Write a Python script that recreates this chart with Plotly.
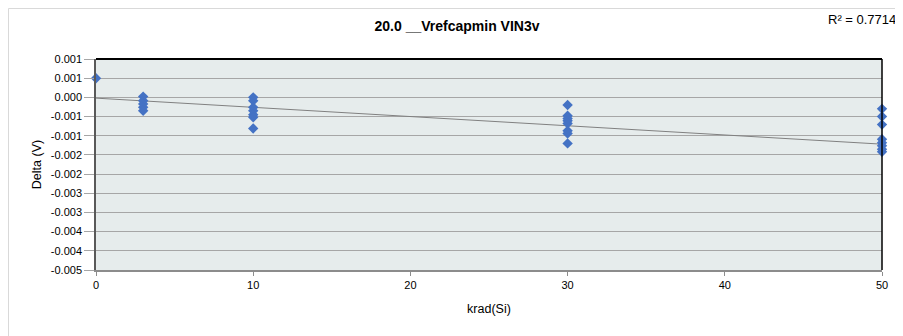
import plotly.graph_objects as go

# Data
dose = [0,
        3, 3, 3, 3, 3,
        10, 10, 10, 10, 10, 10, 10,
        30, 30, 30, 30, 30, 30, 30, 30,
        50, 50, 50, 50, 50, 50, 50, 50]
delta = [0.0005,
         0.00002, -0.00009, -0.00017, -0.00026, -0.00035,
         0.0, -0.00009, -0.00026, -0.00035, -0.00045, -0.00052, -0.00081,
         -0.0002, -0.00048, -0.00055, -0.00061, -0.00068, -0.00087, -0.00094, -0.0012,
         -0.0003, -0.0005, -0.00071, -0.00109, -0.00118, -0.00126, -0.00135, -0.00142]

# Linear trendline end points as drawn in the reference
trend_x = [0, 50]
trend_y = [-0.00002, -0.00122]

y_tickvals = [0.001, 0.0005, 0.0, -0.0005, -0.001, -0.0015, -0.002, -0.0025,
              -0.003, -0.0035, -0.004, -0.0045]
y_ticktext = ["0.001", "0.001", "0.000", "-0.001", "-0.001", "-0.002", "-0.002",
              "-0.003", "-0.003", "-0.004", "-0.004", "-0.005"]
x_tickvals = [0, 10, 20, 30, 40, 50]

title_text = "<b>20.0 __Vrefcapmin VIN3v</b>"
r2_text = "R\u00b2 = 0.7714"

# Page body has an 8px margin, so the figure is sized to fit inside the window
W, H = 895, 328
L, R, T, B = 88, 21, 51, 66
PW, PH = W - L - R, H - T - B

fig = go.Figure()
fig.add_trace(go.Scatter(x=trend_x, y=trend_y, mode="lines",
                         line=dict(color="#808080", width=1),
                         hoverinfo="skip", showlegend=False))
fig.add_trace(go.Scatter(x=dose, y=delta, mode="markers",
                         marker=dict(symbol="diamond", size=8, color="#4472C4",
                                     line=dict(width=0)),
                         cliponaxis=False, showlegend=False))

font_family = "Liberation Sans, Arial, sans-serif"

fig.update_layout(
    width=W, height=H,
    margin=dict(l=L, r=R, t=T, b=B, autoexpand=False),
    paper_bgcolor="white",
    plot_bgcolor="#E6ECEC",
    font=dict(family=font_family, size=11, color="#000000"),
    showlegend=False,
    title=dict(text=title_text, x=449 / W, xref="container", xanchor="center",
               y=1 - 18 / H, yref="container", yanchor="middle",
               font=dict(size=14, family=font_family, color="#000000")),
    xaxis=dict(range=[0, 50], tickvals=x_tickvals, showgrid=False,
               zeroline=False, showline=True, linecolor="#8C8C8C", linewidth=1.5,
               ticks="outside", ticklen=4, tickcolor="#8C8C8C",
               tickfont=dict(size=11),
               title=dict(text="krad(Si)", font=dict(size=12.5), standoff=14)),
    yaxis=dict(range=[-0.0045, 0.001], tickvals=y_tickvals, ticktext=y_ticktext,
               showgrid=True, gridcolor="#A6A6A6", gridwidth=1,
               zeroline=False, showline=True, linecolor="#595959", linewidth=1.5,
               ticks="outside", ticklen=10, tickcolor="#A6A6A6",
               tickfont=dict(size=11),
               title=dict(text="Delta (V)", font=dict(size=12.5), standoff=6)),
    shapes=[
        # top and right plot-area border (black)
        dict(type="line", xref="paper", yref="paper", x0=0, x1=1, y0=1, y1=1,
             line=dict(color="#000000", width=2), layer="above"),
        dict(type="line", xref="paper", yref="paper", x0=1, x1=1, y0=0, y1=1,
             line=dict(color="#000000", width=1.5), layer="above"),
        # chart-area border (light gray)
        dict(type="line", xref="paper", yref="paper",
             x0=(-L + 0.5) / PW, x1=1 + R / PW,
             y0=1 + (T - 0.5) / PH, y1=1 + (T - 0.5) / PH,
             line=dict(color="#D9D9D9", width=1)),
        dict(type="line", xref="paper", yref="paper",
             x0=(-L + 0.5) / PW, x1=(-L + 0.5) / PW,
             y0=1 + (T - 0.5) / PH, y1=-B / PH,
             line=dict(color="#D9D9D9", width=1)),
    ],
    annotations=[
        dict(text=r2_text, xref="paper", yref="paper",
             x=1 + 16 / PW, y=1 + 39 / PH, xanchor="right", yanchor="middle",
             showarrow=False, font=dict(size=13, family=font_family)),
    ],
)

fig.write_html("out.html")
